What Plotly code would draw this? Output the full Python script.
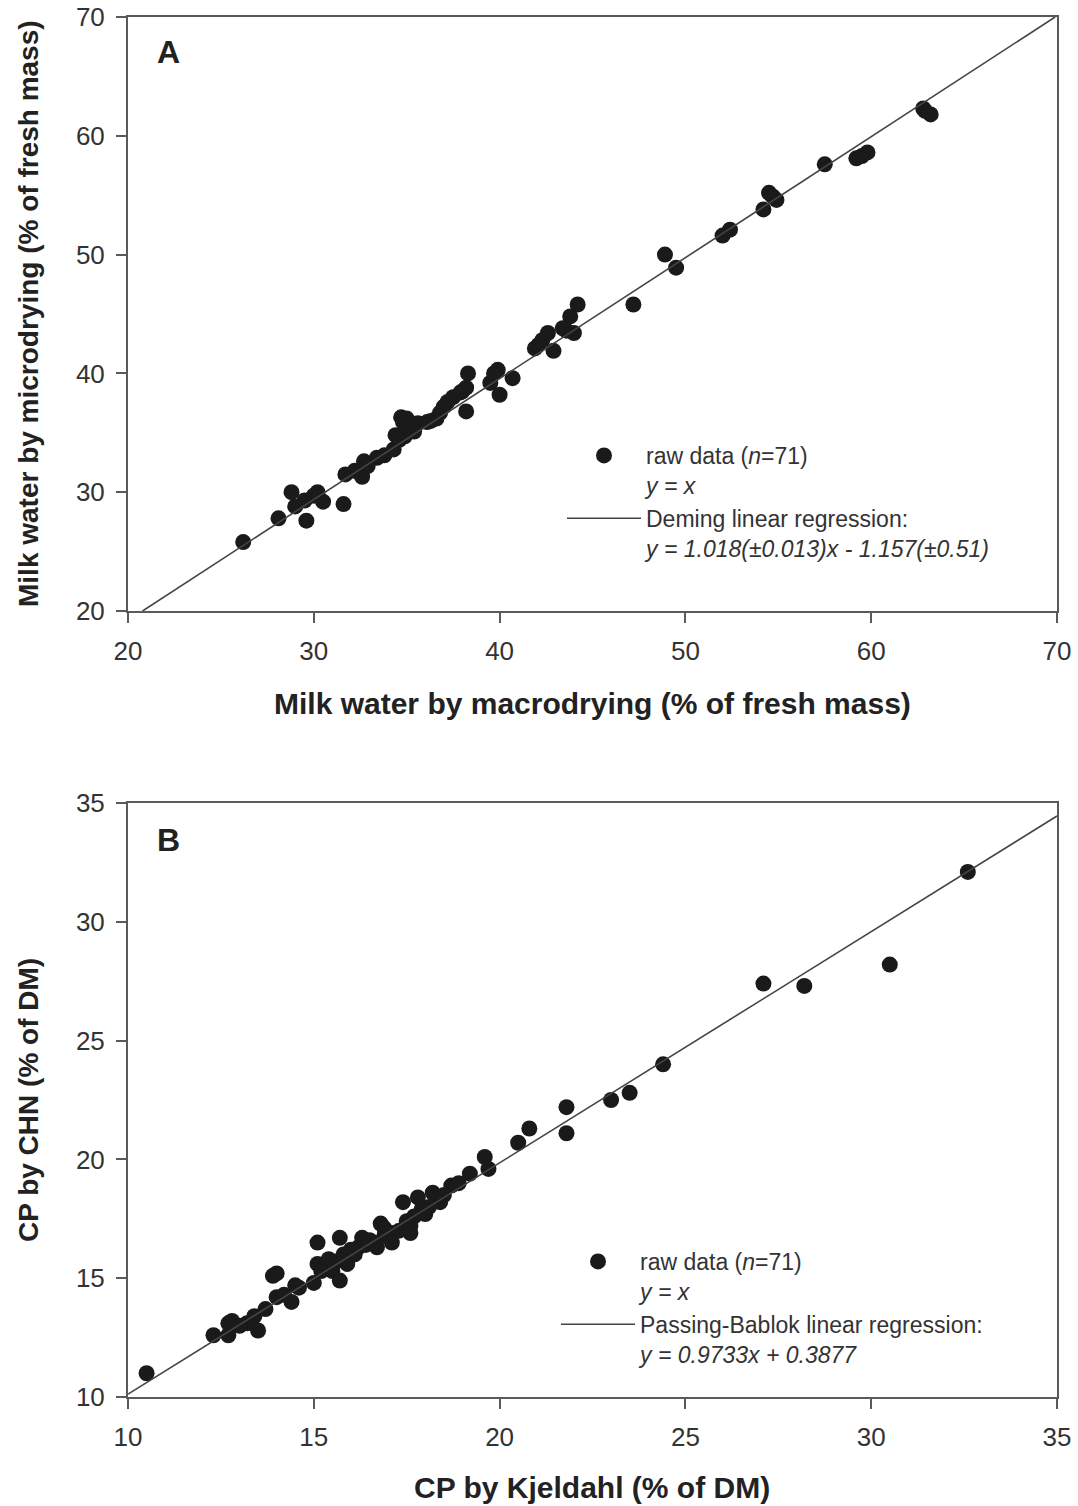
import plotly.graph_objects as go

# ---------------- Panel A data: milk water ----------------
a_macro = [26.2, 28.1, 28.8, 29.0, 29.5, 29.6, 30.2, 30.5, 31.6, 31.7,
           32.2, 32.4, 32.6, 32.7, 33.4, 34.3, 34.4, 34.7, 35.0, 34.9,
           35.2, 35.6, 36.1, 36.6, 37.0, 37.5, 37.9, 38.2, 38.2, 38.3,
           39.5, 39.9, 40.0, 40.7, 41.9, 42.3, 42.6, 42.9, 43.4, 44.0,
           43.8, 44.2, 47.2, 48.9, 49.5, 52.0, 52.4, 54.2, 54.5, 54.9,
           57.5, 59.2, 59.8, 62.8, 63.2, 30.0, 32.9, 33.8, 34.6, 34.8,
           35.4, 36.3, 36.8, 37.2, 38.0, 39.7, 42.1, 43.6, 54.7, 59.5, 62.9]
a_micro = [25.8, 27.8, 30.0, 28.8, 29.3, 27.6, 30.0, 29.2, 29.0, 31.5,
           31.8, 31.7, 31.3, 32.6, 32.9, 33.6, 34.8, 36.3, 36.2, 34.7,
           35.4, 35.8, 35.9, 36.2, 37.2, 38.0, 38.4, 38.8, 36.8, 40.0,
           39.2, 40.3, 38.2, 39.6, 42.1, 42.8, 43.4, 41.9, 43.8, 43.4,
           44.8, 45.8, 45.8, 50.0, 48.9, 51.6, 52.1, 53.8, 55.2, 54.6,
           57.6, 58.1, 58.6, 62.3, 61.8, 29.7, 32.2, 33.1, 34.4, 35.9,
           35.1, 36.0, 36.7, 37.6, 38.5, 40.0, 42.4, 43.6, 54.9, 58.3, 62.1]
a_slope, a_intercept = 1.018, -1.157
a_ticks = [20, 30, 40, 50, 60, 70]

# ---------------- Panel B data: crude protein ----------------
b_kjeldahl = [10.5, 12.3, 12.7, 12.7, 12.8, 13.2, 13.4, 13.5, 13.7, 13.9,
              14.0, 14.0, 14.4, 14.5, 14.6, 15.0, 15.1, 15.1, 15.3, 15.4,
              15.5, 15.7, 15.7, 15.9, 16.0, 16.2, 16.3, 16.4, 16.7, 16.8,
              16.9, 17.1, 17.1, 17.4, 17.6, 17.6, 17.8, 17.9, 18.0, 18.2,
              18.4, 18.7, 18.9, 19.2, 19.6, 19.7, 20.5, 20.8, 21.8, 21.8,
              23.0, 23.5, 24.4, 27.1, 28.2, 30.5, 32.6, 15.2, 15.6, 16.1,
              16.5, 16.9, 17.3, 17.7, 18.1, 13.0, 14.2, 15.8, 16.6, 17.5, 18.5]
b_chn = [11.0, 12.6, 12.6, 13.1, 13.2, 13.1, 13.4, 12.8, 13.7, 15.1,
         15.2, 14.2, 14.0, 14.7, 14.6, 14.8, 16.5, 15.6, 15.5, 15.8,
         15.3, 14.9, 16.7, 15.6, 16.2, 16.3, 16.7, 16.4, 16.3, 17.3,
         16.8, 16.5, 16.9, 18.2, 17.2, 16.9, 18.4, 17.9, 17.7, 18.6,
         18.2, 18.9, 19.0, 19.4, 20.1, 19.6, 20.7, 21.3, 21.1, 22.2,
         22.5, 22.8, 24.0, 27.4, 27.3, 28.2, 32.1, 15.3, 15.7, 16.0,
         16.6, 17.1, 17.0, 17.6, 18.0, 13.0, 14.3, 16.0, 16.5, 17.4, 18.5]
b_slope, b_intercept = 0.9733, 0.3877
b_ticks = [10, 15, 20, 25, 30, 35]

W, H = 1078, 1506
FONT = "Arial, Liberation Sans, sans-serif"
AXC = "#5a5a5a"
TXT = "#333333"

def px_x(p):
    return p / W

def px_y(p):
    return 1 - p / H

fig = go.Figure()

# Panel A
fig.add_trace(go.Scatter(
    x=a_macro, y=a_micro, mode="markers", xaxis="x", yaxis="y",
    marker=dict(size=16, color="#1a1a1a"),
    name="raw data (<i>n</i>=71)<br><i>y = x</i>", legend="legend"))
a_lx = [(a_ticks[0] - a_intercept) / a_slope, (a_ticks[-1] - a_intercept) / a_slope]
fig.add_trace(go.Scatter(
    x=a_lx, y=[a_slope * v + a_intercept for v in a_lx], mode="lines",
    xaxis="x", yaxis="y", line=dict(color="#444444", width=1.6),
    name="Deming linear regression:<br><i>y = 1.018(±0.013)x - 1.157(±0.51)</i>",
    legend="legend"))

# Panel B
fig.add_trace(go.Scatter(
    x=b_kjeldahl, y=b_chn, mode="markers", xaxis="x2", yaxis="y2",
    marker=dict(size=16, color="#1a1a1a"),
    name="raw data (<i>n</i>=71)<br><i>y = x</i>", legend="legend2"))
b_lx = [b_ticks[0], b_ticks[-1]]
fig.add_trace(go.Scatter(
    x=b_lx, y=[b_slope * v + b_intercept for v in b_lx], mode="lines",
    xaxis="x2", yaxis="y2", line=dict(color="#444444", width=1.6),
    name="Passing-Bablok linear regression:<br><i>y = 0.9733x + 0.3877</i>",
    legend="legend2"))

axis_common = dict(
    showline=True, linecolor=AXC, linewidth=2, mirror=True,
    ticks="outside", ticklen=10, tickwidth=1.5, tickcolor=AXC,
    showgrid=False, zeroline=False, automargin=False,
    ticklabeloverflow="allow",
    tickfont=dict(family=FONT, size=26, color=TXT),
)

xdom = [px_x(128), px_x(1057)]
legend_common = dict(xanchor="left", yanchor="top", bgcolor="rgba(0,0,0,0)",
                     font=dict(family=FONT, size=23, color=TXT),
                     itemwidth=74, valign="top", tracegroupgap=0)
fig.update_layout(
    width=W, height=H,
    margin=dict(l=0, r=0, t=0, b=0, autoexpand=False),
    paper_bgcolor="white", plot_bgcolor="white",
    font=dict(family=FONT, color=TXT),
    xaxis=dict(domain=xdom, range=[20, 70], tickvals=a_ticks, anchor="y",
               ticklabelstandoff=6, **axis_common),
    yaxis=dict(domain=[px_y(611), px_y(17)], range=[20, 70], tickvals=a_ticks,
               anchor="x", ticklabelstandoff=6, **axis_common),
    xaxis2=dict(domain=xdom, range=[10, 35], tickvals=b_ticks, anchor="y2",
                ticklabelstandoff=6, **axis_common),
    yaxis2=dict(domain=[px_y(1397), px_y(803)], range=[10, 35], tickvals=b_ticks,
                anchor="x2", ticklabelstandoff=6, **axis_common),
    legend=dict(x=px_x(562), y=px_y(434), **legend_common),
    legend2=dict(x=px_x(556), y=px_y(1240), **legend_common),
    showlegend=True,
)

ann = [
    dict(text="<b>A</b>", x=px_x(168), y=px_y(52)),
    dict(text="<b>B</b>", x=px_x(168), y=px_y(840)),
]
for a in ann:
    fig.add_annotation(text=a["text"], x=a["x"], y=a["y"], xref="paper", yref="paper",
                       showarrow=False, font=dict(family=FONT, size=32, color="#222"),
                       xanchor="center", yanchor="middle")

titles = [
    ("<b>Milk water by macrodrying (% of fresh mass)</b>", px_x(592), px_y(703), 0, 30),
    ("<b>Milk water by microdrying (% of fresh mass)</b>", px_x(28), px_y(314), -90, 28),
    ("<b>CP by Kjeldahl (% of DM)</b>", px_x(592), px_y(1487), 0, 30),
    ("<b>CP by CHN (% of DM)</b>", px_x(28), px_y(1100), -90, 28),
]
for t, x, y, ang, sz in titles:
    fig.add_annotation(text=t, x=x, y=y, xref="paper", yref="paper", showarrow=False,
                       textangle=ang, font=dict(family=FONT, size=sz, color="#222"),
                       xanchor="center", yanchor="middle")

# remove the browser's default 8px page margin so the figure fills the window
fig.write_html("out.html",
               config={"displayModeBar": False},
               post_script="document.body.style.margin='0';"
                           "document.body.style.overflow='hidden';")
